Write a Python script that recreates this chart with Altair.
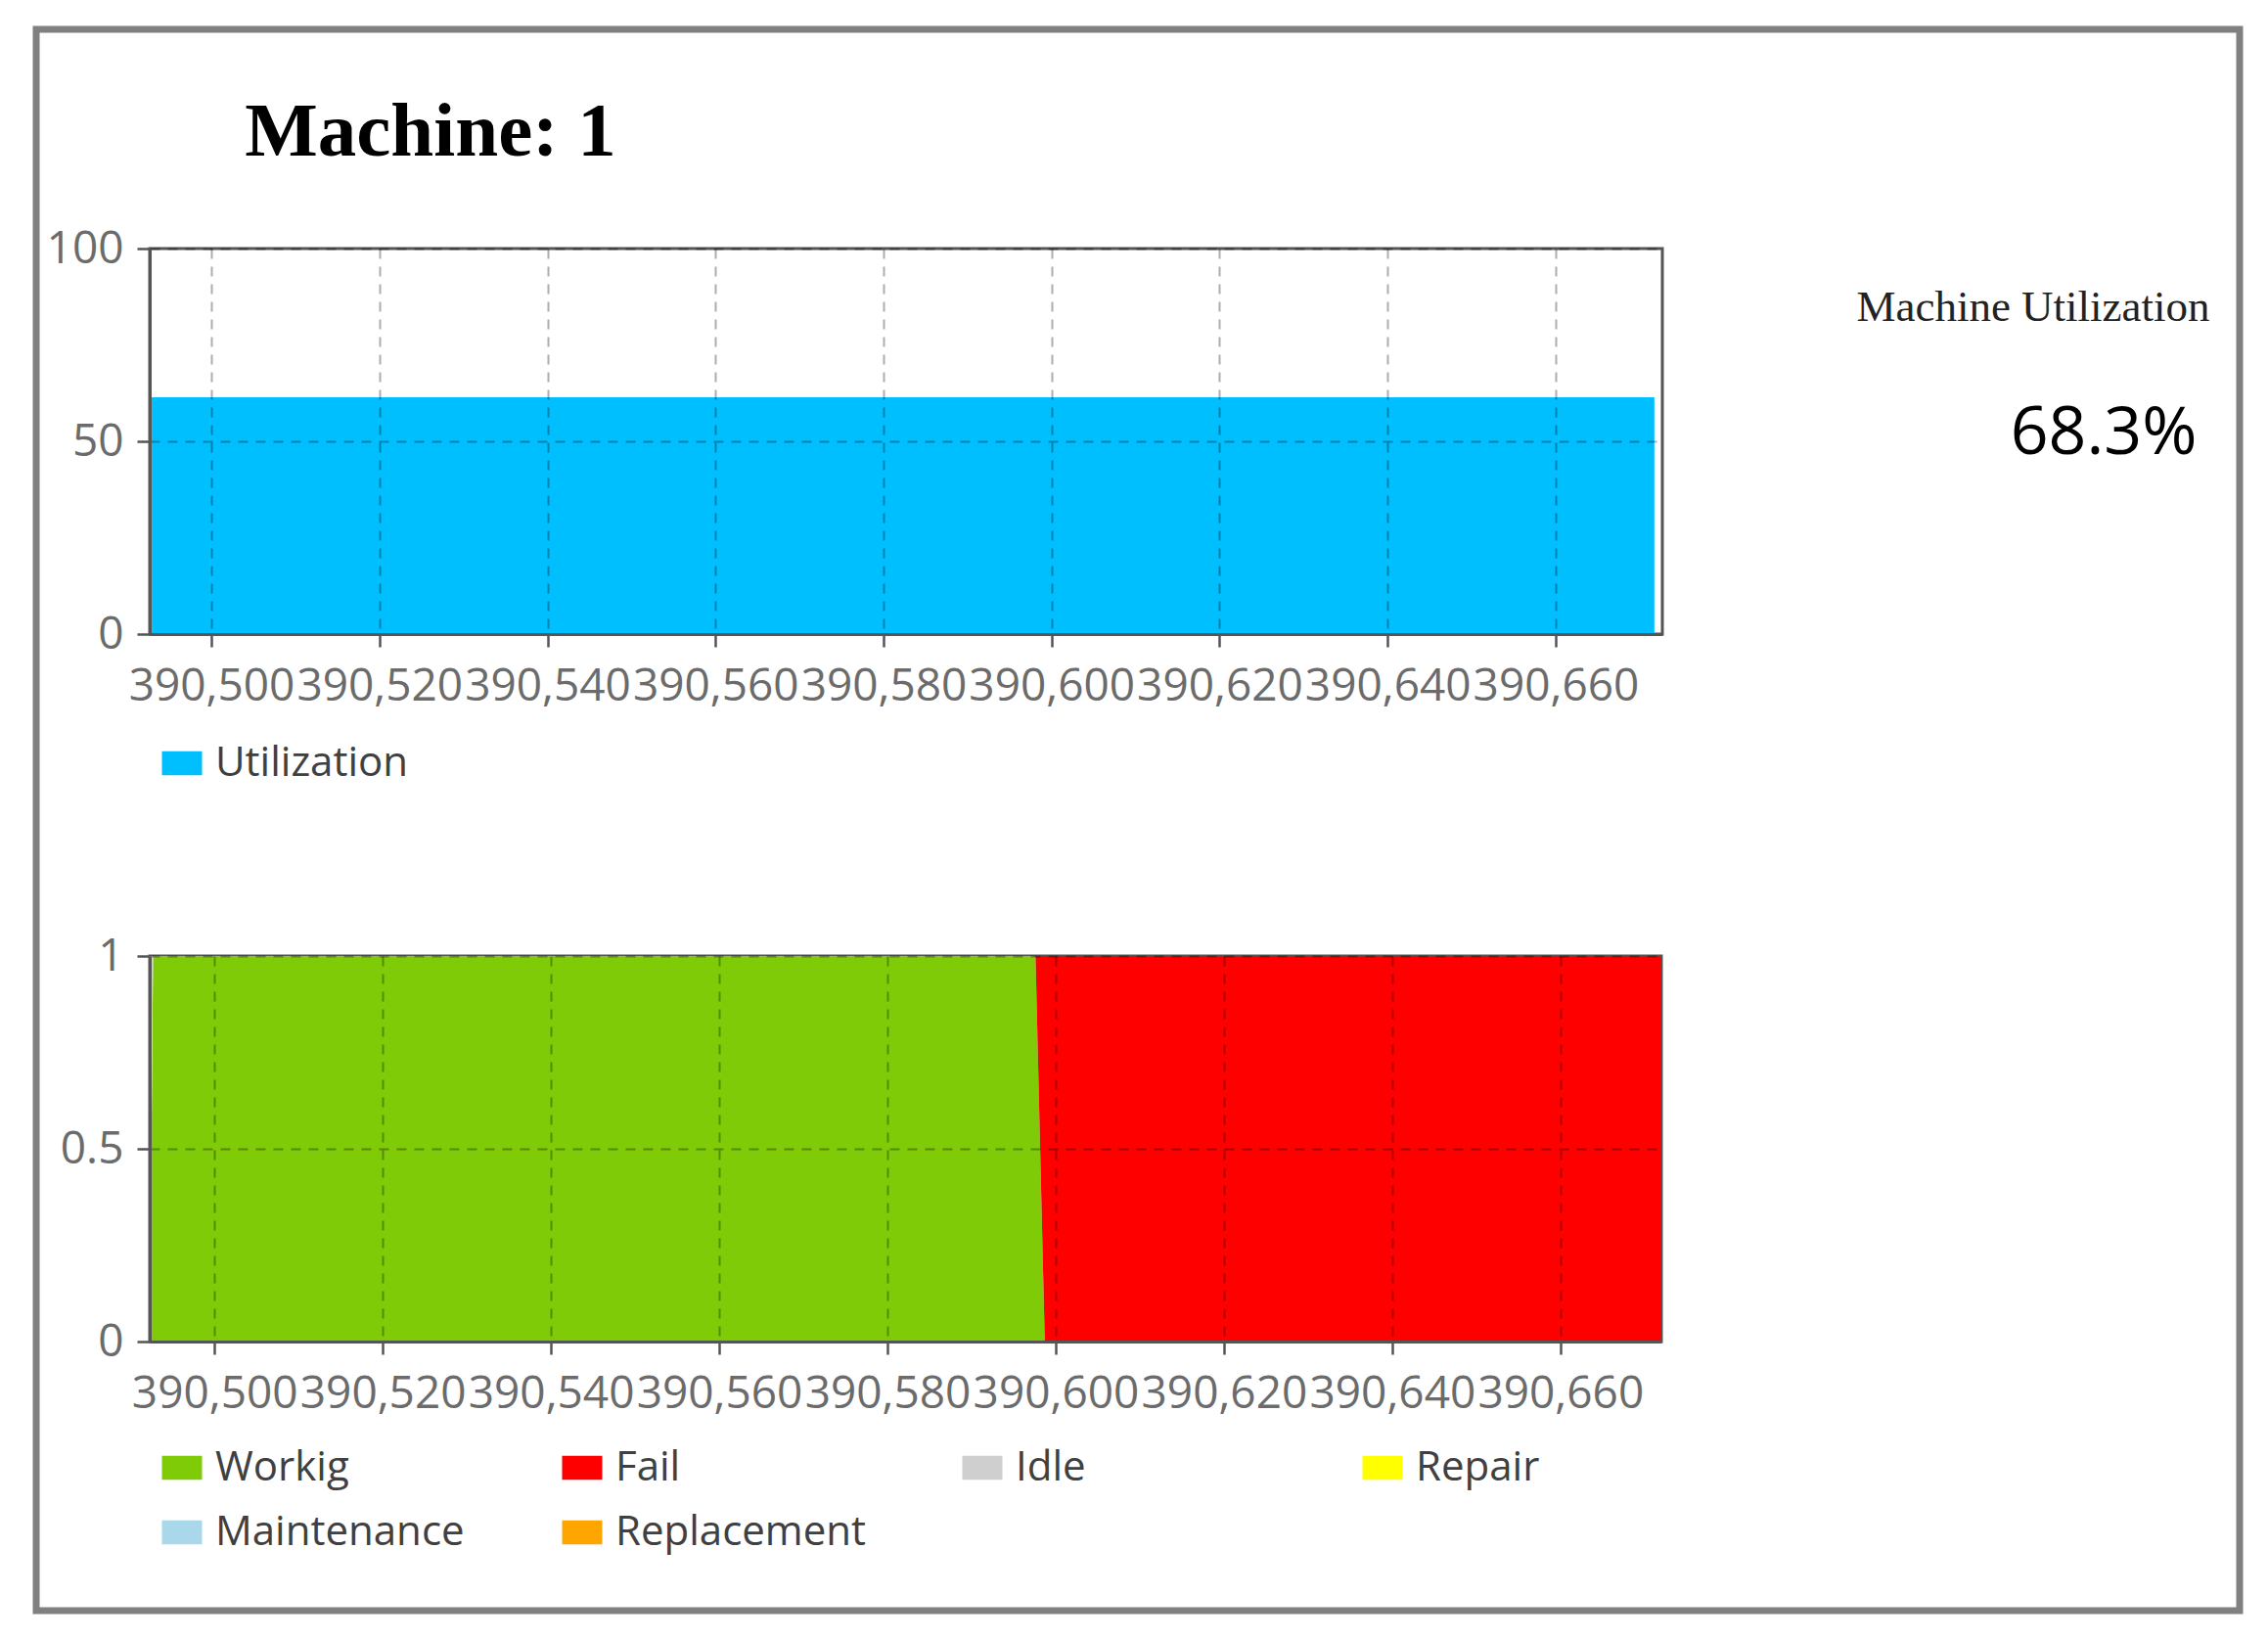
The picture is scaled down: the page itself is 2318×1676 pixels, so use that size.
import altair as alt
import pandas as pd

# ---------------- data ----------------
title_text = "Machine: 1"
side_label = "Machine Utilization"
util_text = "68.3%"

util_series = ["Utilization"]
util_color = ["#00bfff"]
util_time = [390492.9, 390671.75]
util_value = [61.4, 61.4]

state_names = ["Workig", "Fail", "Idle", "Repair", "Maintenance", "Replacement"]
state_colors = ["#7fcb07", "#fe0000", "#cfcfcf", "#ffff00", "#a9d8ea", "#ffa500"]
state_time = [390492.3, 390492.7, 390597.6, 390598.7, 390672.0]
working = [0, 1, 1, 0, 0]
fail = [0, 0, 0, 1, 1]
idle = [1, 0, 0, 0, 0]
repair = [0, 0, 0, 0, 0]
maintenance = [0, 0, 0, 0, 0]
replacement = [0, 0, 0, 0, 0]

x_ticks = [390500, 390520, 390540, 390560, 390580, 390600, 390620, 390640, 390660]
top_y_ticks = [0, 50, 100]
bottom_y_ticks = [0, 0.5, 1]
top_x_domain = [390492.66, 390672.7]
bottom_x_domain = [390492.3, 390672.0]

# ---------------- tables ----------------
util_df = pd.DataFrame({"t": util_time, "u": util_value, "s": util_series * len(util_time)})

state_values = [working, fail, idle, repair, maintenance, replacement]
rows = []
for k, (name, vals) in enumerate(zip(state_names, state_values)):
    for t, v in zip(state_time, vals):
        rows.append({"t": t, "v": v, "state": name, "ord": k})
state_df = pd.DataFrame(rows)

one = pd.DataFrame({"a": [0]})

AXIS_COMMON = dict(
    title=None,
    labelFont="Open Sans",
    labelFontSize=46,
    labelColor="#6b6b6b",
    domainColor="#555555",
    domainWidth=3,
    tickColor="#555555",
    tickWidth=2.5,
    tickSize=13,
    grid=True,
    gridColor="#000000",
    gridOpacity=0.32,
    gridDash=[10, 8],
    gridWidth=2,
    labelFlush=False,
    labelOverlap=False,
    zindex=1,
)

SYMBOL = "M-1,-0.6H1V0.6H-1Z"
LEGEND_COMMON = dict(
    orient="none", title=None, symbolType=SYMBOL, symbolSize=1681, symbolStrokeWidth=0,
    labelFont="Open Sans", labelFontSize=42, labelColor="#404040", labelLimit=500,
    labelOffset=13, padding=0, direction="horizontal",
)

# ---------------- top panel ----------------
top_area = alt.Chart(util_df).mark_area(interpolate="linear").encode(
    x=alt.X("t:Q", scale=alt.Scale(domain=top_x_domain, nice=False, zero=False),
            axis=alt.Axis(values=x_ticks, format=",d", labelPadding=18, **AXIS_COMMON)),
    y=alt.Y("u:Q", scale=alt.Scale(domain=[0, 100], nice=False),
            axis=alt.Axis(values=top_y_ticks, format=".1~f", labelPadding=14, **AXIS_COMMON)),
    color=alt.Color("s:N", scale=alt.Scale(domain=util_series, range=util_color),
                    legend=alt.Legend(legendX=12, legendY=505, **LEGEND_COMMON)),
)

frame = alt.Chart(one).mark_rect(filled=False, stroke="#808080", strokeWidth=7).encode(
    x=alt.value(-116), x2=alt.value(2136), y=alt.value(-224), y2=alt.value(1392)
)

title_mark = alt.Chart(pd.DataFrame({"txt": [title_text]})).mark_text(
    font="Liberation Serif", fontWeight="bold", fontSize=79, color="#000000",
    align="center", baseline="alphabetic"
).encode(text="txt:N", x=alt.value(287), y=alt.value(-95))

side_mark = alt.Chart(pd.DataFrame({"txt": [side_label]})).mark_text(
    font="Liberation Serif", fontSize=45, color="#222222",
    align="center", baseline="alphabetic"
).encode(text="txt:N", x=alt.value(1925), y=alt.value(74))

util_mark = alt.Chart(pd.DataFrame({"txt": [util_text]})).mark_text(
    font="Open Sans", fontSize=68, color="#000000",
    align="center", baseline="alphabetic"
).encode(text="txt:N", x=alt.value(1997), y=alt.value(210))

top = alt.layer(top_area, frame, title_mark, side_mark, util_mark).properties(width=1546, height=394)

# ---------------- bottom panel ----------------
bottom = alt.Chart(state_df).mark_area(interpolate="linear").encode(
    x=alt.X("t:Q", scale=alt.Scale(domain=bottom_x_domain, nice=False, zero=False),
            axis=alt.Axis(values=x_ticks, format=",d", labelPadding=18, **AXIS_COMMON)),
    y=alt.Y("v:Q", stack="zero", scale=alt.Scale(domain=[0, 1], nice=False),
            axis=alt.Axis(values=bottom_y_ticks, format=".1~f", labelPadding=14, **AXIS_COMMON)),
    color=alt.Color("state:N", scale=alt.Scale(domain=state_names, range=state_colors),
                    legend=alt.Legend(legendX=12, legendY=502, columns=4, gridAlign="all",
                                      columnPadding=97, rowPadding=24, **LEGEND_COMMON)),
    order=alt.Order("ord:Q", sort="ascending"),
).properties(width=1545, height=394)

chart = (
    alt.vconcat(top, bottom, spacing=329, bounds="flush")
    .resolve_scale(color="independent", x="independent", y="independent")
    .resolve_legend(color="independent")
    .properties(padding={"left": 24, "top": 17, "right": 5, "bottom": 5}, background="#ffffff")
    .configure_view(stroke="#555555", strokeWidth=3)
)

chart.save("out.html", embed_options={"renderer": "svg", "actions": False})
